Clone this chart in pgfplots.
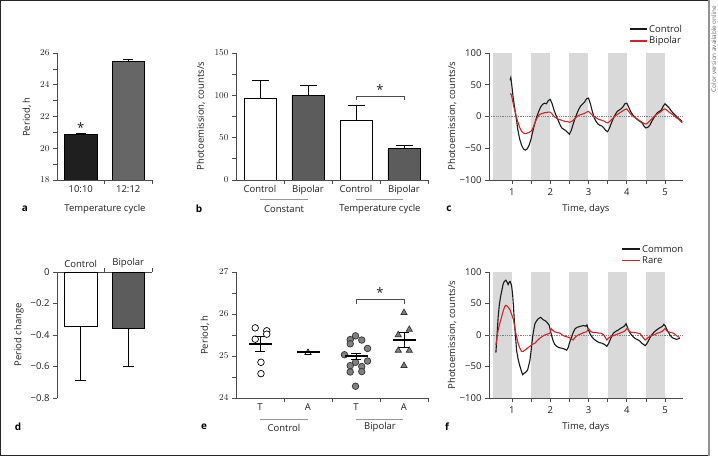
\documentclass[border=0pt]{standalone}
\usepackage{fontspec}
\setmainfont{Open Sans}
\usepackage{pgfplots}
\pgfplotsset{compat=1.18}
\definecolor{axc}{gray}{0.3}
\definecolor{txt}{gray}{0.12}
\definecolor{redc}{RGB}{208,38,38}
\definecolor{band}{gray}{0.85}
\definecolor{darkbar}{gray}{0.12}
\definecolor{midbar}{gray}{0.40}
\definecolor{graybar}{gray}{0.36}
\definecolor{ptgray}{gray}{0.5}
\definecolor{grpline}{gray}{0.6}
\newcommand{\fs}{\fontsize{9.5}{11}\selectfont}
\newcommand{\lfs}{\fontsize{10}{12}\bfseries\selectfont}
\pgfplotsset{
  panel/.style={
    scale only axis, anchor=south west,
    axis x line*=bottom, axis y line*=left,
    axis line style={axc, line width=0.7pt},
    tick style={axc, line width=0.7pt},
    major tick length=4pt, minor tick length=4pt,
    tick align=outside,
    tick label style={font=\fs, text=txt},
    clip mode=individual,
  },
  bar/.style={ybar, draw=black, line width=0.7pt,
    error bars/y explicit, error bars/error bar style={black, line width=0.7pt},
    error bars/error mark options={rotate=90, black, line width=0.7pt, mark size=#1}},
}
\begin{document}
\begin{tikzpicture}
\useasboundingbox (0,0) rectangle (718pt,456pt);

% ---------------- panel a
\begin{axis}[panel, at={(57pt,276pt)}, width=95pt, height=127pt,
  xmin=0.5, xmax=2.5, ymin=18, ymax=26,
  ytick={18,20,22,24,26}, minor ytick={19,21,23,25},
  xtick={1.5,2.5}, xticklabels={},
  extra x ticks={1,2}, extra x tick labels={10:10,12:12},
  extra x tick style={major tick length=0pt, tick label style={yshift=-2pt}},
]
\addplot[bar=5pt, bar width=0.69, fill=darkbar, error bars/y dir=plus] coordinates {(1,20.9) +- (0,0.07)};
\addplot[bar=5pt, bar width=0.69, fill=midbar, error bars/y dir=plus] coordinates {(2,25.45) +- (0,0.15)};
\node[font=\fontsize{13}{13}\selectfont, text=txt] at (axis cs:1,21.3) {*};
\end{axis}

% ---------------- panel b
\begin{axis}[panel, at={(236pt,276pt)}, width=192pt, height=127pt,
  xmin=0.5, xmax=4.5, ymin=0, ymax=150,
  ytick={0,50,100,150}, minor ytick={25,75,125},
  xtick={1.5,2.5,3.5,4.5}, xticklabels={},
  extra x ticks={1,2,3,4}, extra x tick labels={Control,Bipolar,Control,Bipolar},
  extra x tick style={major tick length=0pt, tick label style={yshift=-2pt}},
]
\addplot[bar=8.5pt, bar width=0.667, fill=white, error bars/y dir=plus] coordinates {(1,96.2) +- (0,21.2) (3,70.3) +- (0,18.4)};
\addplot[bar=8.5pt, bar width=0.667, fill=graybar, error bars/y dir=plus] coordinates {(2,100.1) +- (0,11.4) (4,36.9) +- (0,3.9)};
\draw[axc, line width=0.7pt] (axis cs:3,94.5) -- (axis cs:3,99.3) -- (axis cs:4,99.3) -- (axis cs:4,94.5);
\node[font=\fontsize{13}{13}\selectfont, text=txt] at (axis cs:3.5,107) {*};
\end{axis}

% ---------------- panel c
\begin{axis}[panel, at={(489pt,276pt)}, width=194pt, height=127pt,
  xmin=0.4, xmax=5.47, ymin=-100, ymax=100,
  ytick={-100,-50,0,50,100}, yticklabels={−100,−50,0,50,100},
  xtick={1,2,3,4,5}, xticklabels={1,2,3,4,5}, minor xtick={1.5,2.5,3.5,4.5},
  x tick label style={yshift=-1pt},
]
\fill[band] (axis cs:0.5,-100) rectangle (axis cs:1,100);
\fill[band] (axis cs:1.5,-100) rectangle (axis cs:2,100);
\fill[band] (axis cs:2.5,-100) rectangle (axis cs:3,100);
\fill[band] (axis cs:3.5,-100) rectangle (axis cs:4,100);
\fill[band] (axis cs:4.5,-100) rectangle (axis cs:5,100);
\draw[gray, densely dotted, line width=0.8pt] (rel axis cs:0,0.5) -- (rel axis cs:1,0.5);
\addplot[black!90, line width=1.1pt] coordinates {
(0.95,57)(0.97,61)(0.99,52)(1.01,42)(1.03,30)(1.05,22)(1.08,10)(1.10,2)(1.13,-10)(1.15,-20)(1.20,-35)(1.25,-45)(1.30,-51)(1.35,-53)(1.40,-51)(1.45,-45)(1.50,-35)(1.55,-22)(1.60,-10)(1.65,0)(1.70,8)(1.75,15)(1.80,19)(1.85,21)(1.90,20)(1.95,25)(2.00,27)(2.05,20)(2.10,10)(2.15,2)(2.20,-5)(2.25,-12)(2.30,-18)(2.35,-20)(2.40,-22)(2.45,-25)(2.50,-28)(2.55,-22)(2.60,-12)(2.65,-3)(2.70,5)(2.75,12)(2.80,17)(2.85,20)(2.90,23)(2.95,28)(3.00,29)(3.05,20)(3.10,8)(3.15,-2)(3.20,-8)(3.25,-12)(3.30,-14)(3.35,-15)(3.40,-18)(3.45,-22)(3.50,-24)(3.55,-18)(3.60,-10)(3.65,-3)(3.70,3)(3.75,8)(3.80,10)(3.85,12)(3.90,15)(3.95,20)(4.00,21)(4.05,15)(4.10,8)(4.15,3)(4.20,0)(4.25,-3)(4.30,-6)(4.35,-8)(4.40,-10)(4.45,-15)(4.50,-18)(4.55,-17)(4.60,-14)(4.65,-8)(4.70,-3)(4.75,2)(4.80,6)(4.85,8)(4.90,10)(4.95,16)(5.00,20)(5.05,17)(5.10,14)(5.15,10)(5.20,6)(5.25,3)(5.30,0)(5.35,-3)(5.40,-5)(5.45,-8)};
\addplot[redc, line width=1.1pt] coordinates {
(0.95,36)(0.98,35)(1.00,30)(1.05,15)(1.10,3)(1.15,-8)(1.20,-17)(1.25,-23)(1.30,-26)(1.35,-27)(1.40,-26)(1.45,-25)(1.50,-23)(1.55,-18)(1.60,-10)(1.65,-3)(1.70,2)(1.75,4)(1.80,5)(1.85,6)(1.90,6)(1.95,7)(2.00,7)(2.05,4)(2.10,0)(2.15,-2)(2.20,-4)(2.25,-5)(2.30,-6)(2.35,-7)(2.40,-8)(2.45,-8)(2.50,-9)(2.55,-8)(2.60,-6)(2.65,-3)(2.70,0)(2.75,2)(2.80,3)(2.85,4)(2.90,5)(2.95,7)(3.00,8)(3.05,5)(3.10,2)(3.15,0)(3.20,-2)(3.25,-4)(3.30,-5)(3.35,-6)(3.40,-7)(3.45,-9)(3.50,-10)(3.55,-8)(3.60,-5)(3.65,-2)(3.70,1)(3.75,3)(3.80,5)(3.85,7)(3.90,9)(3.95,11)(4.00,12)(4.05,8)(4.10,4)(4.15,1)(4.20,-1)(4.25,-3)(4.30,-5)(4.35,-7)(4.40,-9)(4.45,-11)(4.50,-12)(4.55,-10)(4.60,-7)(4.65,-4)(4.70,-1)(4.75,2)(4.80,4)(4.85,6)(4.90,8)(4.95,11)(5.00,12)(5.05,10)(5.10,7)(5.15,5)(5.20,3)(5.25,1)(5.30,-2)(5.35,-4)(5.40,-7)(5.45,-10)};
\end{axis}

% ---------------- panel d
\begin{axis}[panel, axis x line*=top, at={(57pt,58pt)}, width=95pt, height=126pt,
  xmin=0.5, xmax=2.5, ymin=-0.8, ymax=0,
  ytick={-0.8,-0.6,-0.4,-0.2,0}, yticklabels={−0.8,−0.6,−0.4,−0.2,0},
  xtick={1.5,2.5}, xticklabels={},
  extra x ticks={1,2}, extra x tick labels={Control,Bipolar},
  extra x tick style={major tick length=0pt, tick label style={yshift=1pt}},
]
\addplot[bar=5.5pt, bar width=0.69, fill=white, error bars/y dir=minus] coordinates {(1,-0.347) +- (0,0.341)};
\addplot[bar=5.5pt, bar width=0.69, fill=graybar, error bars/y dir=minus] coordinates {(2,-0.358) +- (0,0.238)};
\end{axis}

% ---------------- panel e
\begin{axis}[panel, at={(236pt,58pt)}, width=192pt, height=126pt,
  xmin=0.5, xmax=4.5, ymin=24, ymax=27,
  ytick={24,25,26,27}, minor ytick={24.5,25.5,26.5},
  xtick={1.5,2.5,3.5,4.5}, xticklabels={},
  extra x ticks={1,2,3,4}, extra x tick labels={T,A,T,A},
  extra x tick style={major tick length=0pt, tick label style={yshift=-2pt}},
]
\addplot[only marks, mark=*, mark size=3.3pt, mark options={fill=white, draw=black, line width=0.7pt}] coordinates {
(0.90,25.67)(1.14,25.60)(1.14,25.52)(0.90,25.40)(1.02,24.85)(1.02,24.58)};
\addplot[only marks, mark=triangle*, mark size=3.6pt, mark options={fill=white, draw=black, line width=0.7pt}] coordinates {(2,25.08)};
\addplot[only marks, mark=*, mark size=3.3pt, mark options={fill=ptgray, draw=black!80, line width=0.7pt}] coordinates {
(2.99,25.48)(2.88,25.39)(3.12,25.38)(2.88,25.29)(3.24,25.18)(2.76,25.03)(2.99,24.85)(3.24,24.88)(2.88,24.77)(3.12,24.75)(2.88,24.62)(3.12,24.63)(2.99,24.28)};
\addplot[only marks, mark=triangle*, mark size=3.6pt, mark options={fill=ptgray, draw=black!80, line width=0.7pt}] coordinates {
(4.00,26.03)(4.11,25.63)(3.88,25.50)(3.88,25.13)(4.11,25.13)(4.00,24.77)};
\addplot[only marks, mark=-, mark size=11.5pt, mark options={line width=1.6pt, black},
  error bars/.cd, y dir=both, y explicit, error bar style={black, line width=0.8pt},
  error mark options={rotate=90, black, line width=0.8pt, mark size=5pt}] coordinates {
(1,25.28) +- (0,0.18) (2,25.09) +- (0,0) (3,25.0) +- (0,0.07) (4,25.38) +- (0,0.18)};
\draw[axc, line width=0.7pt] (axis cs:3,26.25) -- (axis cs:3,26.35) -- (axis cs:4,26.35) -- (axis cs:4,26.25);
\node[font=\fontsize{13}{13}\selectfont, text=txt] at (axis cs:3.5,26.52) {*};
\end{axis}

% ---------------- panel f
\begin{axis}[panel, at={(489pt,58pt)}, width=194pt, height=126pt,
  xmin=0.4, xmax=5.47, ymin=-100, ymax=100,
  ytick={-100,-50,0,50,100}, yticklabels={−100,−50,0,50,100},
  xtick={1,2,3,4,5}, xticklabels={1,2,3,4,5}, minor xtick={1.5,2.5,3.5,4.5},
  x tick label style={yshift=-1pt},
]
\fill[band] (axis cs:0.5,-100) rectangle (axis cs:1,100);
\fill[band] (axis cs:1.5,-100) rectangle (axis cs:2,100);
\fill[band] (axis cs:2.5,-100) rectangle (axis cs:3,100);
\fill[band] (axis cs:3.5,-100) rectangle (axis cs:4,100);
\fill[band] (axis cs:4.5,-100) rectangle (axis cs:5,100);
\draw[gray, densely dotted, line width=0.8pt] (rel axis cs:0,0.5) -- (rel axis cs:1,0.5);
\addplot[black!90, line width=1.1pt] coordinates {
(0.58,-28)(0.61,0)(0.64,29)(0.67,48)(0.70,60)(0.74,72)(0.77,81)(0.80,85)(0.84,87)(0.87,84)(0.90,80)(0.93,84)(0.95,85)(0.97,82)(0.99,79)(1.02,62)(1.04,45)(1.06,25)(1.08,8)(1.10,-8)(1.12,-24)(1.16,-38)(1.21,-50)(1.25,-58)(1.28,-63)(1.31,-61)(1.34,-60)(1.38,-58)(1.41,-55)(1.44,-48)(1.47,-40)(1.50,-25)(1.54,-3)(1.57,8)(1.60,18)(1.65,23)(1.69,26)(1.75,28)(1.82,24)(1.86,23)(1.90,21)(1.97,16)(2.02,3)(2.05,-4)(2.08,-10)(2.12,-15)(2.17,-18)(2.23,-20)(2.30,-21)(2.36,-22)(2.43,-24)(2.47,-20)(2.50,-13)(2.56,-3)(2.60,4)(2.65,10)(2.70,12)(2.74,13)(2.80,14)(2.87,15)(2.93,14)(2.96,16)(3.00,8)(3.04,2)(3.09,-3)(3.15,-7)(3.22,-10)(3.28,-12)(3.35,-13)(3.42,-15)(3.48,-18)(3.52,-14)(3.55,-10)(3.60,-3)(3.65,3)(3.72,6)(3.78,8)(3.85,11)(3.91,13)(3.95,15)(3.98,18)(4.02,12)(4.04,8)(4.10,2)(4.17,-3)(4.23,-6)(4.30,-8)(4.35,-10)(4.39,-13)(4.44,-15)(4.48,-17)(4.52,-14)(4.56,-10)(4.60,-5)(4.65,0)(4.72,5)(4.78,8)(4.85,11)(4.91,13)(4.95,15)(4.97,17)(5.01,14)(5.04,10)(5.09,4)(5.13,0)(5.17,-3)(5.21,-5)(5.26,-6)(5.30,-7)(5.35,-6)(5.39,-5)};
\addplot[redc, line width=1.1pt] coordinates {
(0.58,-16)(0.61,-3)(0.64,8)(0.68,18)(0.73,29)(0.77,38)(0.81,45)(0.84,47)(0.86,47)(0.90,44)(0.95,40)(0.99,33)(1.04,24)(1.07,13)(1.10,3)(1.13,-5)(1.16,-13)(1.20,-20)(1.25,-26)(1.29,-26)(1.34,-24)(1.40,-21)(1.47,-18)(1.53,-15)(1.60,-13)(1.66,-9)(1.73,-5)(1.80,-2)(1.86,0)(1.90,1)(1.95,2)(1.99,3)(2.03,10)(2.07,7)(2.12,5)(2.18,4)(2.25,3)(2.32,0)(2.38,-2)(2.44,-3)(2.50,-4)(2.55,-6)(2.60,-8)(2.63,-5)(2.66,-3)(2.73,0)(2.81,2)(2.88,4)(2.95,5)(3.00,10)(3.04,7)(3.07,5)(3.13,4)(3.20,4)(3.27,3)(3.33,3)(3.40,0)(3.44,-4)(3.48,-8)(3.52,-5)(3.57,-3)(3.65,-1)(3.74,1)(3.82,3)(3.91,5)(3.96,7)(4.01,11)(4.05,7)(4.09,5)(4.15,4)(4.22,4)(4.28,3)(4.35,2)(4.40,-2)(4.44,-5)(4.48,-8)(4.52,-6)(4.56,-4)(4.65,-1)(4.74,1)(4.80,3)(4.87,4)(4.93,6)(5.00,10)(5.04,7)(5.09,5)(5.15,4)(5.22,3)(5.28,0)(5.35,-3)(5.38,-4)};
\end{axis}

% ---------------- annotations (pixel coordinates, y downward)
\begin{scope}[x=1pt, y=-1pt, yshift=456pt]
% frame
\draw[black!85, line width=1.5pt] (0,0.75) -- (709,0.75);
\draw[black!85, line width=0.8pt] (0.4,0) -- (0.4,456);
\draw[black!85, line width=1.2pt] (0,455.2) -- (709,455.2);
\draw[gray!85, line width=1.6pt] (709,0) -- (709,456);
\node[rotate=90, font=\fontsize{6.3}{7}\selectfont, text=black!60, inner sep=0pt] at (713.8,49) {Color version available online};
% y labels
\node[rotate=90, font=\fs, text=txt] at (27,117) {Period, h};
\node[rotate=90, font=\fs, text=txt] at (201,116) {Photoemission, counts/s};
\node[rotate=90, font=\fs, text=txt] at (452,116) {Photoemission, counts/s};
\node[rotate=90, font=\fs, text=txt] at (19,335) {Period change};
\node[rotate=90, font=\fs, text=txt] at (205,335) {Period, h};
\node[rotate=90, font=\fs, text=txt] at (452,335) {Photoemission, counts/s};
% x labels
\node[font=\fs, text=txt] at (105,209) {Temperature cycle};
\node[font=\fs, text=txt] at (586,209) {Time, days};
\node[font=\fs, text=txt] at (586,427) {Time, days};
% group labels
\draw[grpline, line width=0.8pt] (260,199.5) -- (308,199.5);
\draw[grpline, line width=0.8pt] (356,199.5) -- (403,199.5);
\node[font=\fs, text=txt] at (284,209) {Constant};
\node[font=\fs, text=txt] at (380,209) {Temperature cycle};
\draw[grpline, line width=0.8pt] (260,419) -- (308,419);
\draw[grpline, line width=0.8pt] (356,419) -- (403,419);
\node[font=\fs, text=txt] at (284,427.5) {Control};
\node[font=\fs, text=txt] at (380,427.5) {Bipolar};
% panel letters
\node[font=\lfs] at (25,209) {a};
\node[font=\lfs] at (199,209) {b};
\node[font=\lfs] at (449,209) {c};
\node[font=\lfs] at (18,427) {d};
\node[font=\lfs] at (204,427) {e};
\node[font=\lfs] at (447,427) {f};
% legends
\draw[black!90, line width=1.3pt] (630,29) -- (647,29);
\node[font=\fs, text=txt, anchor=west, inner sep=0pt] at (649,29) {Control};
\draw[redc, line width=1.3pt] (630,41) -- (647,41);
\node[font=\fs, text=txt, anchor=west, inner sep=0pt] at (649,41) {Bipolar};
\draw[black!90, line width=1.3pt] (622,249) -- (640,249);
\node[font=\fs, text=txt, anchor=west, inner sep=0pt] at (642,249) {Common};
\draw[redc, line width=1.3pt] (622,260.5) -- (640,260.5);
\node[font=\fs, text=txt, anchor=west, inner sep=0pt] at (642,260.5) {Rare};
\end{scope}
\end{tikzpicture}
\end{document}
